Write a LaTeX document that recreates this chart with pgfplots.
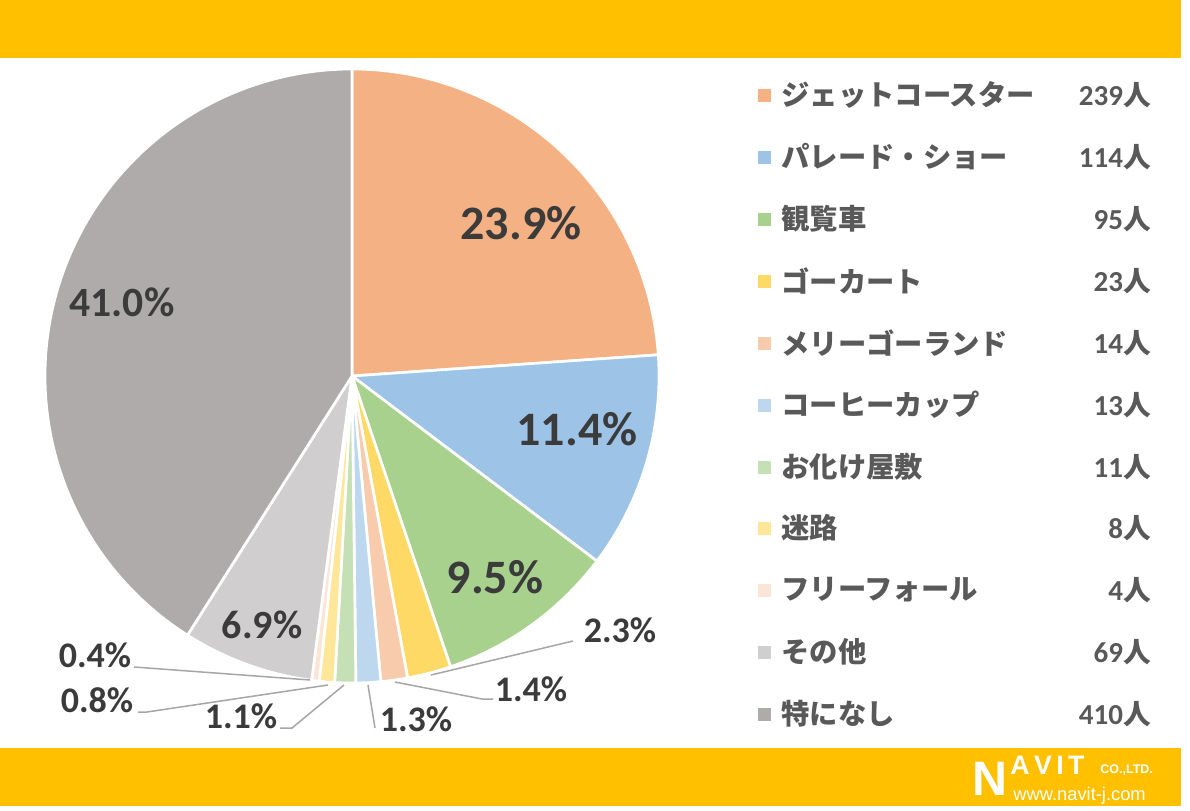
\documentclass[border=0pt]{standalone}
\usepackage{fontspec}
\setmainfont{Carlito}
\newfontfamily\jp{Noto Sans CJK JP}
\newfontfamily\logofont{Liberation Sans}
\usepackage{pgfplots}
\usepackage{pgfplotstable}
\pgfplotsset{compat=1.18}
\definecolor{band}{HTML}{FFC000}
\definecolor{pc0}{HTML}{F4B183}
\definecolor{pc1}{HTML}{9DC3E6}
\definecolor{pc2}{HTML}{A9D18E}
\definecolor{pc3}{HTML}{FFD966}
\definecolor{pc4}{HTML}{F8CBAD}
\definecolor{pc5}{HTML}{BDD7EE}
\definecolor{pc6}{HTML}{C5E0B4}
\definecolor{pc7}{HTML}{FFE699}
\definecolor{pc8}{HTML}{FBE5D6}
\definecolor{pc9}{HTML}{D0CECE}
\definecolor{pc10}{HTML}{AFABAB}
\definecolor{lbl}{HTML}{3B3B3B}
\definecolor{legtxt}{HTML}{595959}
\definecolor{leader}{HTML}{A6A6A6}
\pgfplotstableread{
idx value
0 239
1 114
2 95
3 23
4 14
5 13
6 11
7 8
8 4
9 69
10 410
}\piedata
\begin{document}
\begin{tikzpicture}
\begin{scope}[x=0.6pt,y=-0.6pt]
\useasboundingbox (0,0) rectangle (1190,810);
\fill[white] (0,0) rectangle (1190,810);
\fill[band] (0,0) rectangle (1181,58);
\fill[band] (0,748) rectangle (1181,806);
\end{scope}
\begin{axis}[at={(211.2pt,-225.6pt)}, anchor=center,
  width=368.4pt, height=368.4pt, scale only axis,
  xmin=-1, xmax=1, ymin=-1, ymax=1, hide axis, clip=false]
\def\cum{0}
\pgfplotsforeachungrouped \i in {0,...,10}{%
  \pgfplotstablegetelem{\i}{value}\of\piedata
  \let\v\pgfplotsretval
  \pgfmathsetmacro\aS{90-0.36*\cum}
  \pgfmathsetmacro\aE{90-0.36*(\cum+\v)}
  \pgfmathsetmacro\cum{\cum+\v}
  \edef\doplot{\noexpand\addplot[fill=pc\i, draw=white, line width=1.6pt, line join=round,
    domain=\aE:\aS, samples=90] ({cos(x)},{sin(x)}) -- (axis cs:0,0) -- cycle;}
  \doplot
}
\end{axis}
\begin{scope}[x=0.6pt,y=-0.6pt]
% leader lines
\draw[leader, line width=0.9pt] (573,641) -- (431,675);
\draw[leader, line width=0.9pt] (493,699) -- (482,699) -- (395,682);
\draw[leader, line width=0.9pt] (375,728) -- (368,685);
\draw[leader, line width=0.9pt] (280,728) -- (292,728) -- (344,685);
\draw[leader, line width=0.9pt] (138,712) -- (147,712) -- (328,685);
\draw[leader, line width=0.9pt] (134,667) -- (310,680);
% labels
\begin{scope}[every node/.style={text=lbl, font=\bfseries, inner sep=0pt}]
\node[font=\fontsize{28.8}{30}\selectfont\bfseries] at (521,223) {23.9\%};
\node[font=\fontsize{28.8}{30}\selectfont\bfseries] at (577,429) {11.4\%};
\node[font=\fontsize{28.8}{30}\selectfont\bfseries] at (495,577) {9.5\%};
\node[font=\fontsize{25}{26}\selectfont\bfseries] at (122,302) {41.0\%};
\node[font=\fontsize{24}{25}\selectfont\bfseries] at (262,625) {6.9\%};
\node[font=\fontsize{21.6}{23}\selectfont\bfseries] at (620,630) {2.3\%};
\node[font=\fontsize{21.6}{23}\selectfont\bfseries] at (531,689) {1.4\%};
\node[font=\fontsize{21.6}{23}\selectfont\bfseries] at (416,719) {1.3\%};
\node[font=\fontsize{21.6}{23}\selectfont\bfseries] at (241,716) {1.1\%};
\node[font=\fontsize{21.6}{23}\selectfont\bfseries] at (97,700) {0.8\%};
\node[font=\fontsize{21.6}{23}\selectfont\bfseries] at (95,655) {0.4\%};
\end{scope}
% legend
\foreach \c/\y/\t/\n in {pc0/95/ジェットコースター/239, pc1/157/パレード・ショー/114, pc2/219/観覧車/95,
  pc3/281/ゴーカート/23, pc4/343/メリーゴーランド/14, pc5/405/コーヒーカップ/13,
  pc6/467/お化け屋敷/11, pc7/528/迷路/8, pc8/590/フリーフォール/4, pc9/652/その他/69, pc10/714/特になし/410}{
  \fill[\c] (758,{\y-6.5}) rectangle (771,{\y+6.5});
  \node[anchor=west, inner sep=0pt, text=legtxt, font=\jp\fontsize{17}{18}\selectfont\bfseries] at (781,\y) {\t};
  \node[anchor=east, inner sep=0pt, text=legtxt] at (1151,\y) {\fontsize{17.4}{19}\selectfont\bfseries\n{\jp\fontsize{16.6}{18}\selectfont\bfseries 人}};
}
% logo
\node[anchor=west, inner sep=0pt, text=white, font=\logofont\fontsize{29}{29}\selectfont\bfseries] at (972,779) {N};
\node[anchor=west, inner sep=0pt, text=white, font=\logofont\fontsize{16}{16}\selectfont\bfseries] at (1010,765) {A\,V\,I\,T};
\node[anchor=west, inner sep=0pt, text=white, font=\logofont\fontsize{7.5}{8}\selectfont\bfseries] at (1100,770) {CO.,LTD.};
\node[anchor=west, inner sep=0pt, text=white, font=\logofont\fontsize{11}{12}\selectfont] at (1013,796) {www.navit-j.com};
\end{scope}
\end{tikzpicture}
\end{document}
